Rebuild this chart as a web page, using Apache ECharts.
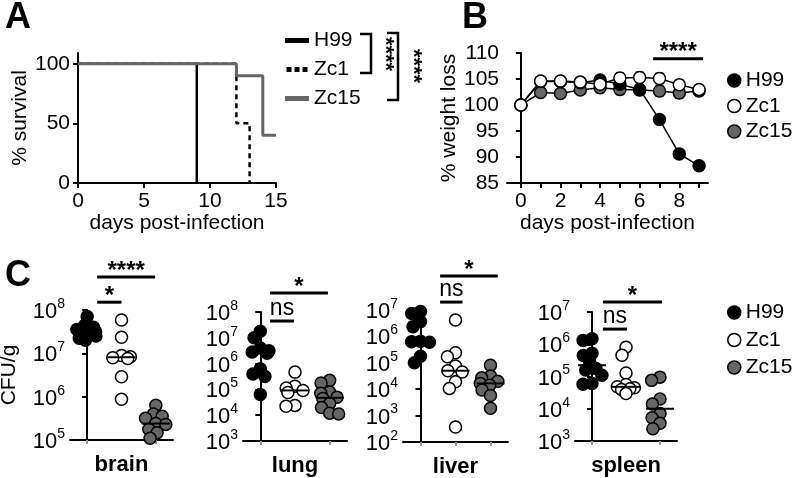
<!DOCTYPE html>
<html>
<head>
<meta charset="utf-8">
<script src="https://cdn.jsdelivr.net/npm/echarts@6/dist/echarts.min.js"></script>
<style>
html, body { margin: 0; padding: 0; background: #fff; }
#chart { width: 795px; height: 478px; }
</style>
</head>
<body>
<div id="chart"></div>
<script>
var FONT = '"Liberation Sans", Arial, Helvetica, sans-serif';
var groups = ['H99', 'Zc1', 'Zc15'];
var fills = ['#000', '#fff', '#666'];

// A: survival, [day, % surviving]
var survH99 = [[0, 100], [9, 0]];
var survZc1 = [[0, 100], [12, 50], [13, 0]];
var survZc15 = [[0, 100], [12, 90], [14, 40], [15, 40]];

// B: weight, mean and sem per day
var days = [0, 1, 2, 3, 4, 5, 6, 7, 8, 9];
var wH99 = [100, 104.5, 104.5, 104.3, 104.8, 104.0, 103.0, 97.2, 90.6, 88.3];
var wZc1 = [100, 104.6, 104.6, 104.4, 104.0, 105.2, 105.3, 105.1, 103.9, 103.0];
var wZc15 = [100, 102.4, 102.2, 102.9, 103.3, 103.0, 102.9, 102.7, 102.3, 102.7];
var seH99 = [0, 0.6, 0.5, 0.5, 0.4, 0.6, 0.8, 0.6, 0.4, 0.5];
var seZc1 = [0, 0.8, 0.6, 0.8, 0.6, 1.0, 1.0, 1.0, 0.9, 0.9];
var seZc15 = [0, 0.5, 0.5, 0.5, 0.9, 1.0, 1.0, 1.0, 1.0, 0.9];
var bSig = [[6.68, 9.2, 108.9]];

// C: log10 CFU/g
var organs = ['brain', 'lung', 'liver', 'spleen'];
var brainH99 = [7.85, 7.65, 7.6, 7.55, 7.5, 7.5, 7.45, 7.4, 7.35, 7.3];
var brainZc1 = [7.77, 7.37, 6.95, 6.92, 6.9, 6.88, 6.46, 5.94];
var brainZc15 = [5.8, 5.6, 5.55, 5.5, 5.38, 5.36, 5.25, 5.17, 5.04];
var lungH99 = [7.25, 7.0, 6.6, 6.5, 6.45, 6.4, 5.8, 5.6, 5.5, 4.8];
var lungZc1 = [5.67, 5.12, 5.05, 4.96, 4.88, 4.38, 4.35];
var lungZc15 = [5.35, 5.25, 4.9, 4.85, 4.7, 4.65, 4.45, 4.3, 4.08, 4.05];
var liverH99 = [6.94, 6.87, 6.56, 6.37, 5.82, 5.8, 5.78, 5.25, 5.0];
var liverZc1 = [6.62, 5.38, 5.23, 4.88, 4.7, 4.65, 4.28, 4.03, 2.57];
var liverZc15 = [4.91, 4.5, 4.43, 4.3, 4.22, 4.15, 3.97, 3.76, 3.28];
var spleenH99 = [6.17, 6.12, 5.72, 5.65, 5.45, 5.25, 5.2, 5.04, 4.78, 4.76];
var spleenZc1 = [5.91, 5.66, 5.11, 4.75, 4.68, 4.65, 4.62, 4.6, 4.47];
var spleenZc15 = [4.98, 4.88, 4.3, 4.15, 3.85, 3.72, 3.55, 3.38];
var yMin = [5, 3, 2, 3];
var yMax = [8, 8, 7, 7];
// significance bars: [from, to, level] on group scale
var brainSig = [[0.29, 1.0, 8.18], [0.29, 1.98, 8.76]];
var lungSig = [[0.28, 0.97, 7.65], [0.28, 1.95, 8.74]];
var liverSig = [[0.56, 1.2, 7.3], [0.56, 2.21, 8.29]];
var spleenSig = [[0.32, 1.03, 6.47], [0.32, 2.06, 7.31]];
var brainSigText = ['*', '****'];
var lungSigText = ['ns', '*'];
var liverSigText = ['ns', '*'];
var spleenSigText = ['ns', '*'];

var cfu = [
  [brainH99, brainZc1, brainZc15],
  [lungH99, lungZc1, lungZc15],
  [liverH99, liverZc1, liverZc15],
  [spleenH99, spleenZc1, spleenZc15]
];
var sigs = [brainSig, lungSig, liverSig, spleenSig];
var sigTexts = [brainSigText, lungSigText, liverSigText, spleenSigText];

var chart = echarts.init(document.getElementById('chart'));

function median(arr) {
  var s = arr.slice().sort(function(a, b) { return a - b; });
  var m = Math.floor(s.length / 2);
  return s.length % 2 ? s[m] : (s[m - 1] + s[m]) / 2;
}

var lineBlack = { color: '#000', width: 2 };
var labelStyle = { color: '#000', fontSize: 21, fontFamily: FONT };
var nameStyle = { color: '#000', fontSize: 21, fontFamily: FONT };

function sigRender(texts) {
  return function(params, api) {
    var a = api.coord([api.value(0), api.value(2)]);
    var b = api.coord([api.value(1), api.value(2)]);
    var t = texts[params.dataIndex];
    var star = t.indexOf('*') >= 0;
    return {
      type: 'group',
      children: [
        { type: 'line', shape: { x1: a[0], y1: a[1], x2: b[0], y2: b[1] }, style: { stroke: '#000', lineWidth: 3 } },
        {
          type: 'text', x: (a[0] + b[0]) / 2, y: a[1] + (star ? 6 : -1),
          style: { text: t, align: 'center', verticalAlign: 'bottom', fill: '#000',
                   font: (star ? 'bold 24px ' : '23px ') + FONT }
        }
      ]
    };
  };
}

function errRender(params, api) {
  var x = api.value(0);
  var lo = api.coord([x, api.value(1)]);
  var hi = api.coord([x, api.value(2)]);
  var st = { stroke: '#000', lineWidth: 1.5 };
  return {
    type: 'group',
    children: [
      { type: 'line', shape: { x1: lo[0], y1: lo[1], x2: hi[0], y2: hi[1] }, style: st },
      { type: 'line', shape: { x1: hi[0] - 4, y1: hi[1], x2: hi[0] + 4, y2: hi[1] }, style: st },
      { type: 'line', shape: { x1: lo[0] - 4, y1: lo[1], x2: lo[0] + 4, y2: lo[1] }, style: st }
    ]
  };
}

function medRender(params, api) {
  var p = api.coord([api.value(0), api.value(1)]);
  return { type: 'line', shape: { x1: p[0] - 14, y1: p[1], x2: p[0] + 14, y2: p[1] },
           style: { stroke: '#000', lineWidth: 2 } };
}

var grids = [
  { left: 78, top: 53, width: 198, height: 130 },
  { left: 507, top: 53, width: 201, height: 130 },
  { left: 70, top: 310, width: 103, height: 130 },
  { left: 243, top: 312, width: 104, height: 129 },
  { left: 403, top: 310, width: 105, height: 132 },
  { left: 575, top: 312, width: 102, height: 129 }
];
grids.forEach(function(g) { g.outerBoundsMode = 'none'; g.containLabel = false; });

var xAxes = [
  {
    type: 'value', gridIndex: 0, min: 0, max: 15, interval: 5,
    name: 'days post-infection', nameLocation: 'middle', nameGap: 24, nameTextStyle: nameStyle,
    axisLine: { show: true, lineStyle: lineBlack }, axisTick: { show: true, length: 5, lineStyle: lineBlack },
    axisLabel: labelStyle, splitLine: { show: false }
  },
  {
    type: 'value', gridIndex: 1, min: -0.7, max: 9.45,
    name: 'days post-infection', nameLocation: 'middle', nameGap: 24, nameTextStyle: nameStyle,
    axisLine: { show: true, lineStyle: lineBlack },
    axisTick: { show: true, length: 5, lineStyle: lineBlack, customValues: days },
    axisLabel: Object.assign({ customValues: [0, 2, 4, 6, 8] }, labelStyle), splitLine: { show: false }
  }
];
var yAxes = [
  {
    type: 'value', gridIndex: 0, min: 0, max: 109,
    name: '% survival', nameLocation: 'middle', nameGap: 37, nameRotate: 90, nameTextStyle: nameStyle,
    axisLine: { show: true, lineStyle: lineBlack },
    axisTick: { show: true, length: 5, lineStyle: lineBlack, customValues: [0, 50, 100] },
    axisLabel: Object.assign({ customValues: [0, 50, 100] }, labelStyle), splitLine: { show: false }
  },
  {
    type: 'value', gridIndex: 1, min: 85, max: 110, interval: 5,
    name: '% weight loss', nameLocation: 'middle', nameGap: 40, nameRotate: 90, nameTextStyle: nameStyle,
    axisLine: { show: true, lineStyle: lineBlack }, axisTick: { show: true, length: 5, lineStyle: lineBlack },
    axisLabel: labelStyle, splitLine: { show: false }
  }
];

var series = [
  { type: 'line', name: 'H99', xAxisIndex: 0, yAxisIndex: 0, data: survH99, step: 'end', symbol: 'none',
    lineStyle: { color: '#000', width: 2.5 }, itemStyle: { color: '#000' } },
  { type: 'line', name: 'Zc1', xAxisIndex: 0, yAxisIndex: 0, data: survZc1, step: 'end', symbol: 'none',
    lineStyle: { color: '#000', width: 2.5, type: [5, 4] }, itemStyle: { color: '#000' } },
  { type: 'line', name: 'Zc15', xAxisIndex: 0, yAxisIndex: 0, data: survZc15, step: 'end', symbol: 'none',
    lineStyle: { color: '#666', width: 3 }, itemStyle: { color: '#666' } }
];

var wSets = [wH99, wZc1, wZc15];
var seSets = [seH99, seZc1, seZc15];
wSets.forEach(function(w, g) {
  series.push({
    type: 'custom', name: 'err' + g, xAxisIndex: 1, yAxisIndex: 1, z: 1,
    encode: { x: 0, y: [1, 2] }, renderItem: errRender,
    data: days.map(function(d, i) { return [d, w[i] - seSets[g][i], w[i] + seSets[g][i]]; })
  });
});
[2, 0, 1].forEach(function(g) {
  series.push({
    type: 'line', name: groups[g], xAxisIndex: 1, yAxisIndex: 1, z: 3,
    data: days.map(function(d, i) { return [d, wSets[g][i]]; }),
    symbol: 'circle', symbolSize: 12,
    lineStyle: { color: '#000', width: 1.5 },
    itemStyle: { color: fills[g], borderColor: '#000', borderWidth: 1.5 }
  });
});
series.push({
  type: 'custom', name: 'sigB', xAxisIndex: 1, yAxisIndex: 1, clip: false,
  encode: { x: [0, 1], y: 2 }, renderItem: sigRender(['****']), data: bSig
});

organs.forEach(function(organ, i) {
  var gi = 2 + i;
  var catIdx = xAxes.length;
  xAxes.push({
    type: 'category', gridIndex: gi, data: groups,
    jitter: 24, jitterOverlap: false, jitterMargin: -3,
    name: organ, nameLocation: 'middle', nameGap: 14,
    nameTextStyle: { color: '#000', fontSize: 22, fontWeight: 'bold', fontFamily: FONT },
    axisLine: { show: true, lineStyle: lineBlack },
    axisTick: { show: true, alignWithLabel: true, length: 4, lineStyle: { color: '#999', width: 2 } },
    axisLabel: { show: false }
  });
  var hidIdx = xAxes.length;
  xAxes.push({ type: 'value', gridIndex: gi, min: -0.5, max: 2.5, show: false });
  yAxes.push({
    type: 'value', gridIndex: gi, min: yMin[i], max: yMax[i], interval: 1,
    name: i === 0 ? 'CFU/g' : '', nameLocation: 'middle', nameGap: 50, nameRotate: 90, nameTextStyle: nameStyle,
    axisLine: { show: true, lineStyle: lineBlack }, axisTick: { show: true, length: 5, lineStyle: lineBlack },
    splitLine: { show: false },
    axisLabel: {
      margin: 5, showMinLabel: true, showMaxLabel: true, hideOverlap: false,
      formatter: function(v) { return '{b|10}{s|' + v + '}'; },
      rich: {
        b: { fontSize: 22, fontFamily: FONT, color: '#000', verticalAlign: 'bottom', lineHeight: 26 },
        s: { fontSize: 14, fontFamily: FONT, color: '#000', verticalAlign: 'top', lineHeight: 14 }
      }
    }
  });
  cfu[i].forEach(function(vals, g) {
    series.push({
      type: 'scatter', name: groups[g], xAxisIndex: catIdx, yAxisIndex: gi, z: 3,
      data: vals.map(function(v) { return [g, v]; }),
      symbol: 'circle', symbolSize: 12,
      itemStyle: { color: fills[g], borderColor: '#000', borderWidth: 1.5, opacity: 1 }
    });
  });
  series.push({
    type: 'custom', name: 'med' + i, xAxisIndex: hidIdx, yAxisIndex: gi, z: 4,
    encode: { x: 0, y: 1 }, renderItem: medRender,
    data: cfu[i].map(function(vals, g) { return [g, median(vals)]; })
  });
  series.push({
    type: 'custom', name: 'sig' + i, xAxisIndex: hidIdx, yAxisIndex: gi, clip: false,
    encode: { x: [0, 1], y: 2 }, renderItem: sigRender(sigTexts[i]), data: sigs[i]
  });
});

function circleLegend(top, gap) {
  return {
    orient: 'vertical', left: 727, top: top, itemGap: gap, itemWidth: 13, itemHeight: 13,
    padding: 0, selectedMode: false,
    textStyle: { color: '#000', fontSize: 21, fontFamily: FONT },
    data: groups.map(function(n, g) {
      return { name: n, icon: 'circle', itemStyle: { color: fills[g], borderColor: '#000', borderWidth: 1.5 } };
    })
  };
}

var option = {
  animation: false,
  backgroundColor: '#fff',
  textStyle: { fontFamily: FONT },
  grid: grids,
  xAxis: xAxes,
  yAxis: yAxes,
  legend: [
    {
      orient: 'vertical', left: 285, top: 30, itemGap: 8, itemWidth: 24, itemHeight: 5,
      padding: 0, selectedMode: false,
      textStyle: { color: '#000', fontSize: 21, fontFamily: FONT },
      data: [
        { name: 'H99', icon: 'rect', itemStyle: { color: '#000', borderWidth: 0 } },
        { name: 'Zc1', icon: 'path://M0,0h5v5h-5zM8,0h5v5h-5zM16,0h5v5h-5z', itemStyle: { color: '#000', borderWidth: 0 } },
        { name: 'Zc15', icon: 'rect', itemStyle: { color: '#666', borderWidth: 0 } }
      ]
    },
    circleLegend(70, 4.5),
    circleLegend(302, 6.5)
  ],
  graphic: [
    { type: 'text', left: 5, top: 0, style: { text: 'A', font: 'bold 36px ' + FONT, fill: '#000' } },
    { type: 'text', left: 462, top: 0, style: { text: 'B', font: 'bold 36px ' + FONT, fill: '#000' } },
    { type: 'text', left: 5, top: 258, style: { text: 'C', font: 'bold 36px ' + FONT, fill: '#000' } },
    { type: 'polyline', shape: { points: [[360, 34], [371, 34], [371, 73], [360, 73]] },
      style: { stroke: '#000', lineWidth: 2.5, fill: null } },
    { type: 'polyline', shape: { points: [[387, 33], [398, 33], [398, 100], [387, 100]] },
      style: { stroke: '#000', lineWidth: 2.5, fill: null } },
    { type: 'text', x: 385, y: 54, rotation: -Math.PI / 2,
      style: { text: '****', align: 'center', verticalAlign: 'middle', font: 'bold 22px ' + FONT, fill: '#000' } },
    { type: 'text', x: 413, y: 66, rotation: -Math.PI / 2,
      style: { text: '****', align: 'center', verticalAlign: 'middle', font: 'bold 22px ' + FONT, fill: '#000' } }
  ],
  series: series
};

chart.setOption(option);
</script>
</body>
</html>
